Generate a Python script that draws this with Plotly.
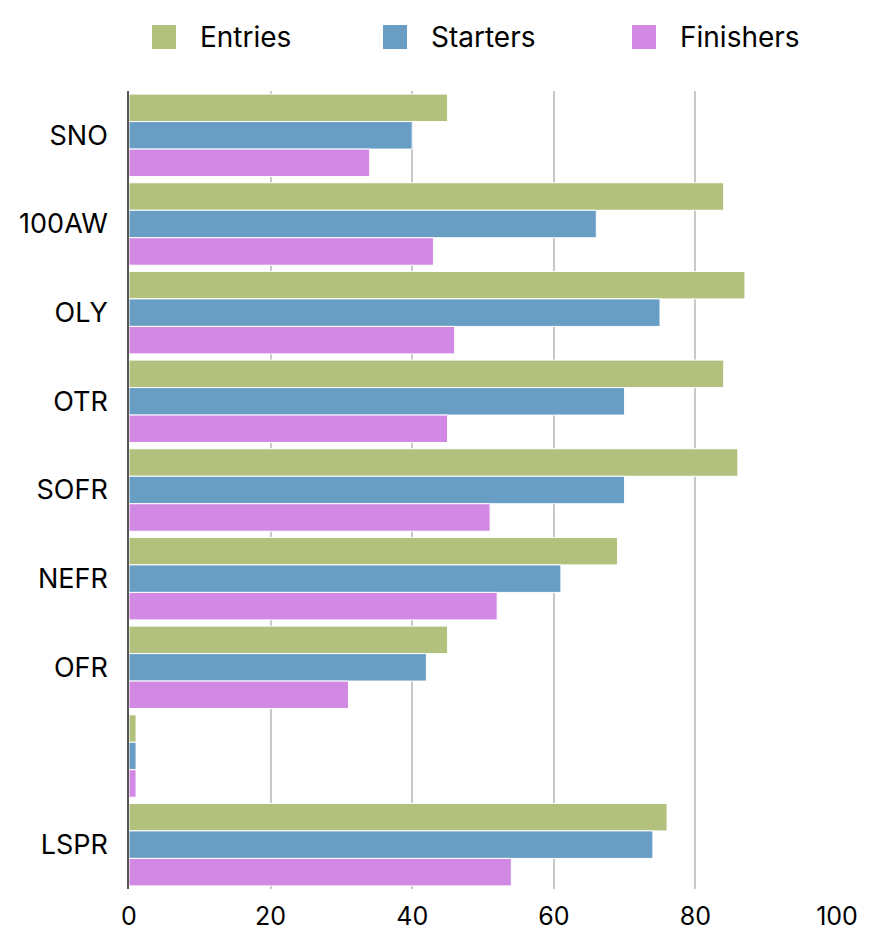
import plotly.graph_objects as go

categories = ["SNO", "100AW", "OLY", "OTR", "SOFR", "NEFR", "OFR", " ", "LSPR"]
entries = [45, 84, 87, 84, 86, 69, 45, 1, 76]
starters = [40, 66, 75, 70, 70, 61, 42, 1, 74]
finishers = [34, 43, 46, 45, 51, 52, 31, 1, 54]
x_ticks = [0, 20, 40, 60, 80, 100]

series_names = ["Entries", "Starters", "Finishers"]
series_colors = ["#b2c27e", "#699ec4", "#d189e3"]
series_values = [entries, starters, finishers]

# page offset from the default body margin
OFF = 8
W, H = 883 - OFF, 952 - OFF
L, R, T, B = 129 - OFF, 46, 91 - OFF, 63
PW, PH = W - L - R, H - T - B

def px_x(px):
    return (px - OFF - L) / PW

def px_y(py):
    return (H - B - (py - OFF)) / PH

fig = go.Figure()
for name, vals, color in zip(series_names, series_values, series_colors):
    fig.add_trace(go.Bar(
        y=categories, x=vals, name=name, orientation="h",
        marker=dict(color=color, line=dict(color="white", width=1)),
        showlegend=False,
    ))

# manual legend (square swatches + labels)
legend_sq_left = [152, 383, 632]
shapes = []
annotations = []
for name, color, sx in zip(series_names, series_colors, legend_sq_left):
    shapes.append(dict(type="rect", xref="paper", yref="paper",
                       x0=px_x(sx), x1=px_x(sx + 24), y0=px_y(49), y1=px_y(25),
                       fillcolor=color, line=dict(width=0), layer="above"))
    annotations.append(dict(xref="paper", yref="paper", x=px_x(sx + 46), y=px_y(37),
                            xanchor="left", yanchor="middle", text=name, showarrow=False,
                            font=dict(size=28, color="black")))

fig.update_layout(
    width=W, height=H,
    barmode="group", bargap=0.07, bargroupgap=0.0,
    paper_bgcolor="white", plot_bgcolor="white",
    margin=dict(l=L, r=R, t=T, b=B, autoexpand=False),
    font=dict(family="Inter, sans-serif", size=26, color="black"),
    showlegend=False,
    shapes=shapes, annotations=annotations,
    xaxis=dict(range=[0, 100], tickvals=x_ticks, showgrid=True, gridcolor="#c8c8c8",
               gridwidth=1.5, zeroline=False, showline=False, ticks="", ticklen=0,
               automargin=False, tickfont=dict(size=25), ticklabelstandoff=10),
    yaxis=dict(categoryorder="array", categoryarray=categories, autorange="reversed",
               showline=True, linecolor="#555555", linewidth=1.5, ticks="",
               ticklabelstandoff=14, showgrid=False, automargin=False,
               tickfont=dict(size=27)),
)
fig.write_html("out.html")
